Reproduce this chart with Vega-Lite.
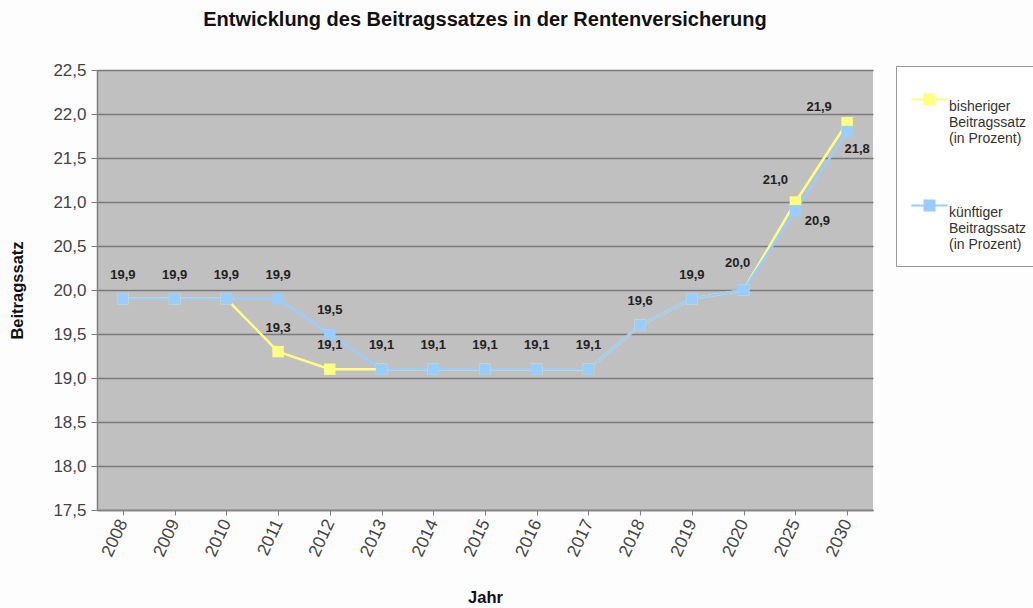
{
  "$schema": "https://vega.github.io/schema/vega-lite/v6.json",
  "autosize": "none",
  "width": 776,
  "height": 440,
  "padding": {"left": 97, "top": 70, "right": 160, "bottom": 98},
  "background": "#fdfdfd",
  "config": {
    "font": "Liberation Sans",
    "locale": {"number": {"decimal": ",", "thousands": ".", "grouping": [3], "currency": ["", " €"]}},
    "view": {"fill": "#c0c0c0", "stroke": null}
  },
  "title": {
    "text": "Entwicklung des Beitragssatzes in der Rentenversicherung",
    "fontSize": 20, "fontWeight": "bold", "color": "#111", "anchor": "middle", "offset": 31
  },
  "data": {"values": [
    {"Jahr": "2008", "Reihe": "bisheriger Beitragssatz (in Prozent)", "Wert": 19.9},
    {"Jahr": "2009", "Reihe": "bisheriger Beitragssatz (in Prozent)", "Wert": 19.9},
    {"Jahr": "2010", "Reihe": "bisheriger Beitragssatz (in Prozent)", "Wert": 19.9},
    {"Jahr": "2011", "Reihe": "bisheriger Beitragssatz (in Prozent)", "Wert": 19.3},
    {"Jahr": "2012", "Reihe": "bisheriger Beitragssatz (in Prozent)", "Wert": 19.1},
    {"Jahr": "2013", "Reihe": "bisheriger Beitragssatz (in Prozent)", "Wert": 19.1},
    {"Jahr": "2014", "Reihe": "bisheriger Beitragssatz (in Prozent)", "Wert": 19.1},
    {"Jahr": "2015", "Reihe": "bisheriger Beitragssatz (in Prozent)", "Wert": 19.1},
    {"Jahr": "2016", "Reihe": "bisheriger Beitragssatz (in Prozent)", "Wert": 19.1},
    {"Jahr": "2017", "Reihe": "bisheriger Beitragssatz (in Prozent)", "Wert": 19.1},
    {"Jahr": "2018", "Reihe": "bisheriger Beitragssatz (in Prozent)", "Wert": 19.6},
    {"Jahr": "2019", "Reihe": "bisheriger Beitragssatz (in Prozent)", "Wert": 19.9},
    {"Jahr": "2020", "Reihe": "bisheriger Beitragssatz (in Prozent)", "Wert": 20.0},
    {"Jahr": "2025", "Reihe": "bisheriger Beitragssatz (in Prozent)", "Wert": 21.0},
    {"Jahr": "2030", "Reihe": "bisheriger Beitragssatz (in Prozent)", "Wert": 21.9},
    {"Jahr": "2008", "Reihe": "künftiger Beitragssatz (in Prozent)", "Wert": 19.9},
    {"Jahr": "2009", "Reihe": "künftiger Beitragssatz (in Prozent)", "Wert": 19.9},
    {"Jahr": "2010", "Reihe": "künftiger Beitragssatz (in Prozent)", "Wert": 19.9},
    {"Jahr": "2011", "Reihe": "künftiger Beitragssatz (in Prozent)", "Wert": 19.9},
    {"Jahr": "2012", "Reihe": "künftiger Beitragssatz (in Prozent)", "Wert": 19.5},
    {"Jahr": "2013", "Reihe": "künftiger Beitragssatz (in Prozent)", "Wert": 19.1},
    {"Jahr": "2014", "Reihe": "künftiger Beitragssatz (in Prozent)", "Wert": 19.1},
    {"Jahr": "2015", "Reihe": "künftiger Beitragssatz (in Prozent)", "Wert": 19.1},
    {"Jahr": "2016", "Reihe": "künftiger Beitragssatz (in Prozent)", "Wert": 19.1},
    {"Jahr": "2017", "Reihe": "künftiger Beitragssatz (in Prozent)", "Wert": 19.1},
    {"Jahr": "2018", "Reihe": "künftiger Beitragssatz (in Prozent)", "Wert": 19.6},
    {"Jahr": "2019", "Reihe": "künftiger Beitragssatz (in Prozent)", "Wert": 19.9},
    {"Jahr": "2020", "Reihe": "künftiger Beitragssatz (in Prozent)", "Wert": 20.0},
    {"Jahr": "2025", "Reihe": "künftiger Beitragssatz (in Prozent)", "Wert": 20.9},
    {"Jahr": "2030", "Reihe": "künftiger Beitragssatz (in Prozent)", "Wert": 21.8}
  ]},
  "encoding": {
    "x": {
      "field": "Jahr", "type": "ordinal", "sort": null,
      "scale": {"type": "point", "padding": 0.5},
      "axis": {
        "title": "Jahr", "titleFontSize": 16.5, "titleFontWeight": "bold", "titleColor": "#111", "titleY": 79,
        "labelAngle": -65, "labelFontSize": 17.5, "labelColor": "#444", "labelPadding": 5,
        "domainColor": "#808080", "domainWidth": 1.5, "tickColor": "#808080", "tickSize": 5, "grid": false
      }
    },
    "y": {
      "field": "Wert", "type": "quantitative",
      "scale": {"domain": [17.5, 22.5], "nice": false, "zero": false},
      "axis": {
        "title": "Beitragssatz", "titleFontSize": 16.5, "titleFontWeight": "bold", "titleColor": "#111", "titleX": -72,
        "values": [17.5, 18, 18.5, 19, 19.5, 20, 20.5, 21, 21.5, 22, 22.5], "format": ".1f",
        "labelFontSize": 17, "labelColor": "#444", "labelPadding": 5,
        "domainColor": "#808080", "domainWidth": 1.5, "tickColor": "#808080", "tickSize": 6,
        "grid": true, "gridColor": "#7a7a7a", "gridWidth": 1.5
      }
    }
  },
  "layer": [
    {
      "mark": {"type": "line", "strokeWidth": 2.5, "point": {"shape": "square", "size": 130, "filled": true, "opacity": 1}},
      "encoding": {
        "color": {
          "field": "Reihe", "type": "nominal",
          "scale": {"domain": ["bisheriger Beitragssatz (in Prozent)", "künftiger Beitragssatz (in Prozent)"], "range": ["#ffff80", "#99ccff"]},
          "legend": {
            "title": null, "orient": "none", "legendX": 799, "legendY": -4,
            "strokeColor": "#999", "fillColor": "#ffffff", "padding": 14, "rowPadding": 40,
            "labelExpr": "datum.label == 'bisheriger Beitragssatz (in Prozent)' ? ['bisheriger', 'Beitragssatz', '(in Prozent)'] : ['künftiger', 'Beitragssatz', '(in Prozent)']",
            "labelFontSize": 14, "labelColor": "#333", "labelBaseline": "top", "labelOffset": 0, "labelLimit": 200,
            "symbolType": "M-1,0H-0.28M0.28,0H1M-0.28,-0.28H0.28V0.28H-0.28Z", "symbolSize": 1300, "symbolStrokeWidth": 2,
            "symbolFillColor": null
          }
        }
      }
    },
    {
      "transform": [{"filter": "(datum.Reihe == 'künftiger Beitragssatz (in Prozent)' && datum.Jahr != '2025' && datum.Jahr != '2030' && datum.Jahr != '2020') || (datum.Reihe == 'bisheriger Beitragssatz (in Prozent)' && (datum.Jahr == '2011' || datum.Jahr == '2012'))"}],
      "mark": {"type": "text", "fontSize": 13, "fontWeight": "bold", "color": "#222", "dy": -24},
      "encoding": {"text": {"field": "Wert", "type": "quantitative", "format": ".1f"}}
    },
    {
      "transform": [{"filter": "datum.Reihe == 'künftiger Beitragssatz (in Prozent)' && datum.Jahr == '2020'"}],
      "mark": {"type": "text", "fontSize": 13, "fontWeight": "bold", "color": "#222", "dx": -6, "dy": -27},
      "encoding": {"text": {"field": "Wert", "type": "quantitative", "format": ".1f"}}
    },
    {
      "transform": [{"filter": "datum.Reihe == 'bisheriger Beitragssatz (in Prozent)' && datum.Jahr == '2025'"}],
      "mark": {"type": "text", "fontSize": 13, "fontWeight": "bold", "color": "#222", "dx": -20, "dy": -22},
      "encoding": {"text": {"field": "Wert", "type": "quantitative", "format": ".1f"}}
    },
    {
      "transform": [{"filter": "datum.Reihe == 'bisheriger Beitragssatz (in Prozent)' && datum.Jahr == '2030'"}],
      "mark": {"type": "text", "fontSize": 13, "fontWeight": "bold", "color": "#222", "dx": -28, "dy": -16},
      "encoding": {"text": {"field": "Wert", "type": "quantitative", "format": ".1f"}}
    },
    {
      "transform": [{"filter": "datum.Reihe == 'künftiger Beitragssatz (in Prozent)' && datum.Jahr == '2025'"}],
      "mark": {"type": "text", "fontSize": 13, "fontWeight": "bold", "color": "#222", "dx": 22, "dy": 10},
      "encoding": {"text": {"field": "Wert", "type": "quantitative", "format": ".1f"}}
    },
    {
      "transform": [{"filter": "datum.Reihe == 'künftiger Beitragssatz (in Prozent)' && datum.Jahr == '2030'"}],
      "mark": {"type": "text", "fontSize": 13, "fontWeight": "bold", "color": "#222", "dx": 10, "dy": 17},
      "encoding": {"text": {"field": "Wert", "type": "quantitative", "format": ".1f"}}
    }
  ]
}
